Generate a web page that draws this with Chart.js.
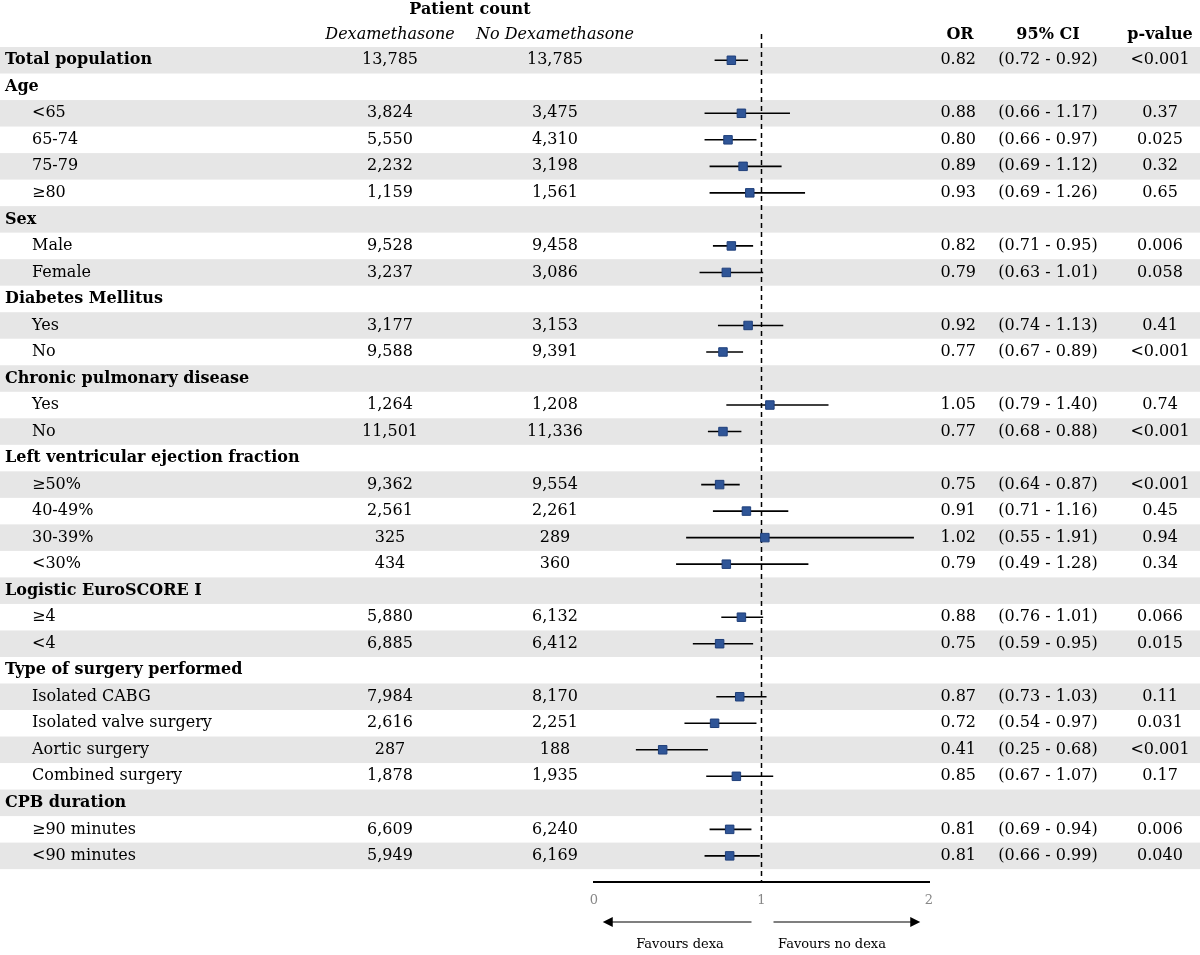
<!DOCTYPE html>
<html>
<head>
<meta charset="utf-8">
<script src="https://cdn.jsdelivr.net/npm/chart.js@4"></script>
<style>
  body { margin: 0; background: #fff; }
  #wrap { width: 1200px; height: 955px; }
</style>
</head>
<body>
<div id="wrap"><canvas id="forest"></canvas></div>
<script>
// rows of the table, header rows have null numbers
let labels = ["Total population", "Age", "<65", "65-74", "75-79", "≥80", "Sex", "Male", "Female",
  "Diabetes Mellitus", "Yes", "No", "Chronic pulmonary disease", "Yes", "No",
  "Left ventricular ejection fraction", "≥50%", "40-49%", "30-39%", "<30%",
  "Logistic EuroSCORE I", "≥4", "<4", "Type of surgery performed", "Isolated CABG",
  "Isolated valve surgery", "Aortic surgery", "Combined surgery", "CPB duration",
  "≥90 minutes", "<90 minutes"];
let isHeader = [1, 1, 0, 0, 0, 0, 1, 0, 0, 1, 0, 0, 1, 0, 0, 1, 0, 0, 0, 0, 1, 0, 0, 1, 0, 0, 0, 0, 1, 0, 0];
let dexaCount = ["13,785", "", "3,824", "5,550", "2,232", "1,159", "", "9,528", "3,237", "", "3,177", "9,588",
  "", "1,264", "11,501", "", "9,362", "2,561", "325", "434", "", "5,880", "6,885", "", "7,984", "2,616",
  "287", "1,878", "", "6,609", "5,949"];
let noDexaCount = ["13,785", "", "3,475", "4,310", "3,198", "1,561", "", "9,458", "3,086", "", "3,153", "9,391",
  "", "1,208", "11,336", "", "9,554", "2,261", "289", "360", "", "6,132", "6,412", "", "8,170", "2,251",
  "188", "1,935", "", "6,240", "6,169"];
let oddsRatio = [0.82, null, 0.88, 0.80, 0.89, 0.93, null, 0.82, 0.79, null, 0.92, 0.77, null, 1.05, 0.77,
  null, 0.75, 0.91, 1.02, 0.79, null, 0.88, 0.75, null, 0.87, 0.72, 0.41, 0.85, null, 0.81, 0.81];
let ciLow = [0.72, null, 0.66, 0.66, 0.69, 0.69, null, 0.71, 0.63, null, 0.74, 0.67, null, 0.79, 0.68,
  null, 0.64, 0.71, 0.55, 0.49, null, 0.76, 0.59, null, 0.73, 0.54, 0.25, 0.67, null, 0.69, 0.66];
let ciHigh = [0.92, null, 1.17, 0.97, 1.12, 1.26, null, 0.95, 1.01, null, 1.13, 0.89, null, 1.40, 0.88,
  null, 0.87, 1.16, 1.91, 1.28, null, 1.01, 0.95, null, 1.03, 0.97, 0.68, 1.07, null, 0.94, 0.99];
let pValue = ["<0.001", "", "0.37", "0.025", "0.32", "0.65", "", "0.006", "0.058", "", "0.41", "<0.001",
  "", "0.74", "<0.001", "", "<0.001", "0.45", "0.94", "0.34", "", "0.066", "0.015", "", "0.11", "0.031",
  "<0.001", "0.17", "", "0.006", "0.040"];
let xTicks = [0, 1, 2];

const FONT = "'DejaVu Serif', 'Liberation Serif', serif";
const SIZE = 16;

let points = [];
oddsRatio.forEach((v, i) => { if (v !== null) points.push({ x: v, y: i }); });

const tablePlugin = {
  id: "table",
  beforeDatasetsDraw(chart) {
    const ctx = chart.ctx, xs = chart.scales.x, ys = chart.scales.y;
    const band = Math.abs(ys.getPixelForValue(1) - ys.getPixelForValue(0));
    ctx.save();
    // shading
    ctx.fillStyle = "#e6e6e6";
    labels.forEach((l, i) => {
      if (i % 2 === 0) ctx.fillRect(0, ys.getPixelForValue(i) - band / 2, 1200, band);
    });
    // dashed reference line
    ctx.strokeStyle = "#000";
    ctx.lineWidth = 1.5;
    ctx.setLineDash([5, 4]);
    ctx.beginPath();
    ctx.moveTo(xs.getPixelForValue(1), 34);
    ctx.lineTo(xs.getPixelForValue(1), chart.chartArea.bottom);
    ctx.stroke();
    ctx.setLineDash([]);
    // CI whiskers
    ctx.lineWidth = 1.6;
    oddsRatio.forEach((v, i) => {
      if (v === null) return;
      const y = ys.getPixelForValue(i);
      ctx.beginPath();
      ctx.moveTo(xs.getPixelForValue(ciLow[i]), y);
      ctx.lineTo(xs.getPixelForValue(ciHigh[i]), y);
      ctx.stroke();
    });
    // headers
    ctx.fillStyle = "#000";
    ctx.textBaseline = "middle";
    ctx.textAlign = "center";
    ctx.font = "bold " + SIZE + "px " + FONT;
    ctx.fillText("Patient count", 470, 10);
    ctx.fillText("OR", 960, 35);
    ctx.fillText("95% CI", 1048, 35);
    ctx.fillText("p-value", 1160, 35);
    ctx.font = "italic " + SIZE + "px " + FONT;
    ctx.fillText("Dexamethasone", 390, 35);
    ctx.fillText("No Dexamethasone", 555, 35);
    // rows
    labels.forEach((l, i) => {
      const y = ys.getPixelForValue(i);
      ctx.textAlign = "left";
      ctx.font = (isHeader[i] ? "bold " : "") + SIZE + "px " + FONT;
      ctx.fillText(l, isHeader[i] ? 5 : 32, y);
      ctx.font = SIZE + "px " + FONT;
      ctx.textAlign = "center";
      ctx.fillText(dexaCount[i], 390, y);
      ctx.fillText(noDexaCount[i], 555, y);
      if (oddsRatio[i] !== null) {
        ctx.textAlign = "right";
        ctx.fillText(oddsRatio[i].toFixed(2), 976, y);
        ctx.textAlign = "center";
        ctx.fillText("(" + ciLow[i].toFixed(2) + " - " + ciHigh[i].toFixed(2) + ")", 1048, y);
        ctx.fillText(pValue[i], 1160, y);
      }
    });
    ctx.restore();
  },
  afterDraw(chart) {
    const ctx = chart.ctx, xs = chart.scales.x;
    const x1 = xs.getPixelForValue(1);
    const y = 922;
    ctx.save();
    ctx.strokeStyle = "#000";
    ctx.fillStyle = "#000";
    ctx.lineWidth = 1.2;
    [[x1 - 10, xs.getPixelForValue(0.1)], [x1 + 12, xs.getPixelForValue(1.9)]].forEach(([a, b]) => {
      ctx.beginPath();
      ctx.moveTo(a, y);
      ctx.lineTo(b, y);
      ctx.stroke();
      const d = b > a ? 1 : -1;
      ctx.beginPath();
      ctx.moveTo(b + d * 8, y);
      ctx.lineTo(b - d * 2, y - 5);
      ctx.lineTo(b - d * 2, y + 5);
      ctx.closePath();
      ctx.fill();
    });
    ctx.font = "13px " + FONT;
    ctx.textAlign = "center";
    ctx.textBaseline = "middle";
    ctx.fillText("Favours dexa", 680, 945);
    ctx.fillText("Favours no dexa", 832, 945);
    ctx.restore();
  }
};

new Chart(document.getElementById("forest"), {
  type: "scatter",
  data: {
    datasets: [{
      data: points,
      pointStyle: "rect",
      pointRadius: 6,
      pointHoverRadius: 6,
      backgroundColor: "#2f5597",
      borderColor: "#1f3f7a",
      borderWidth: 1
    }]
  },
  options: {
    responsive: true,
    maintainAspectRatio: false,
    animation: false,
    layout: { padding: { left: 594, right: 271, top: 47, bottom: 37 } },
    plugins: { legend: { display: false }, tooltip: { enabled: false } },
    scales: {
      x: {
        type: "linear", min: 0, max: 2,
        afterBuildTicks: s => { s.ticks = xTicks.map(v => ({ value: v })); },
        grid: { display: false, drawTicks: false },
        border: { color: "#000", width: 2 },
        ticks: { color: "#888", padding: 10, font: { family: FONT, size: 13 } }
      },
      y: {
        type: "linear", min: -0.5, max: 31.0, reverse: true,
        display: false
      }
    }
  },
  plugins: [tablePlugin]
});
</script>
</body>
</html>
